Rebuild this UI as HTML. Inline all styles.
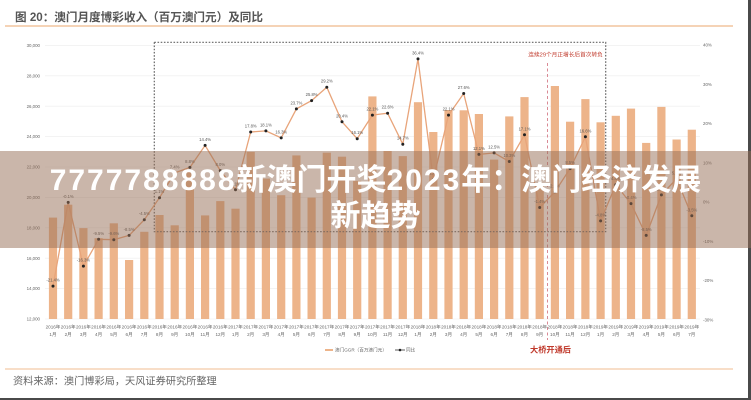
<!DOCTYPE html>
<html><head><meta charset="utf-8"><style>
html,body{margin:0;padding:0;background:#fff;}
#wrap{position:relative;width:751px;height:400px;overflow:hidden;background:#fff;}
svg{position:absolute;left:0;top:0;}
#banner{position:absolute;left:0;top:151px;width:751px;height:97px;background:rgba(150,110,85,0.5);box-sizing:border-box;padding-top:12px;text-align:center;color:#fff;font-family:"Liberation Sans","Noto Sans CJK SC",sans-serif;font-weight:bold;font-size:30px;line-height:36px;white-space:nowrap;}
#banner .d{letter-spacing:2px;}
</style></head><body><div id="wrap">
<svg width="751" height="400" viewBox="0 0 751 400" xmlns="http://www.w3.org/2000/svg" font-family="Liberation Sans, Noto Sans CJK SC, sans-serif">
<text x="15" y="21" font-size="11.6" font-weight="bold" fill="#555">图 20：澳门月度博彩收入（百万澳门元）及同比</text>
<line x1="5" y1="26" x2="733" y2="26" stroke="#f5d3b6" stroke-width="2"/>
<g stroke="#ececec" stroke-width="0.6">
<line x1="45" y1="45.4" x2="700" y2="45.4"/><line x1="45" y1="75.8" x2="700" y2="75.8"/><line x1="45" y1="106.2" x2="700" y2="106.2"/><line x1="45" y1="136.6" x2="700" y2="136.6"/><line x1="45" y1="167" x2="700" y2="167"/><line x1="45" y1="197.4" x2="700" y2="197.4"/><line x1="45" y1="227.8" x2="700" y2="227.8"/><line x1="45" y1="258.2" x2="700" y2="258.2"/><line x1="45" y1="288.6" x2="700" y2="288.6"/><line x1="45" y1="319" x2="700" y2="319"/>
</g>
<g font-size="4.4" fill="#666" text-anchor="end">
<text x="40" y="47">30,000</text><text x="40" y="77.4">28,000</text><text x="40" y="107.8">26,000</text><text x="40" y="138.2">24,000</text><text x="40" y="168.6">22,000</text><text x="40" y="199">20,000</text><text x="40" y="229.4">18,000</text><text x="40" y="259.8">16,000</text><text x="40" y="290.2">14,000</text><text x="40" y="320.6">12,000</text>
</g>
<g font-size="4.4" fill="#666">
<text x="703" y="46.6">40%</text><text x="703" y="85.9">30%</text><text x="703" y="125.2">20%</text><text x="703" y="164.5">10%</text><text x="703" y="203.6">0%</text><text x="703" y="242.9">-10%</text><text x="703" y="282.2">-20%</text><text x="703" y="321.5">-30%</text>
</g>
<g fill="#edb48a">
<rect x="48.9" y="217.6" width="8.2" height="101.4"/><rect x="64.1" y="204.7" width="8.2" height="114.3"/><rect x="79.3" y="228.1" width="8.2" height="90.9"/><rect x="94.5" y="238.2" width="8.2" height="80.8"/><rect x="109.7" y="223.3" width="8.2" height="95.7"/><rect x="125.0" y="260.0" width="8.2" height="59.0"/><rect x="140.2" y="231.8" width="8.2" height="87.2"/><rect x="155.4" y="215.0" width="8.2" height="104.0"/><rect x="170.6" y="225.3" width="8.2" height="93.7"/><rect x="185.8" y="170.1" width="8.2" height="148.9"/><rect x="201.0" y="215.4" width="8.2" height="103.6"/><rect x="216.2" y="201.1" width="8.2" height="117.9"/><rect x="231.4" y="208.7" width="8.2" height="110.3"/><rect x="246.6" y="151.9" width="8.2" height="167.1"/><rect x="261.8" y="178.6" width="8.2" height="140.4"/><rect x="277.1" y="195.2" width="8.2" height="123.8"/><rect x="292.3" y="155.4" width="8.2" height="163.6"/><rect x="307.5" y="197.6" width="8.2" height="121.4"/><rect x="322.7" y="152.7" width="8.2" height="166.3"/><rect x="337.9" y="156.7" width="8.2" height="162.3"/><rect x="353.1" y="180.8" width="8.2" height="138.2"/><rect x="368.3" y="96.4" width="8.2" height="222.6"/><rect x="383.5" y="151.0" width="8.2" height="168.0"/><rect x="398.7" y="156.1" width="8.2" height="162.9"/><rect x="413.9" y="102.2" width="8.2" height="216.8"/><rect x="429.2" y="132.0" width="8.2" height="187.0"/><rect x="444.4" y="110.0" width="8.2" height="209.0"/><rect x="459.6" y="110.3" width="8.2" height="208.7"/><rect x="474.8" y="114.0" width="8.2" height="205.0"/><rect x="490.0" y="159.6" width="8.2" height="159.4"/><rect x="505.2" y="116.4" width="8.2" height="202.6"/><rect x="520.4" y="97.1" width="8.2" height="221.9"/><rect x="535.6" y="185.2" width="8.2" height="133.8"/><rect x="550.8" y="86.0" width="8.2" height="233.0"/><rect x="566.0" y="121.7" width="8.2" height="197.3"/><rect x="581.3" y="99.1" width="8.2" height="219.9"/><rect x="596.5" y="122.3" width="8.2" height="196.7"/><rect x="611.7" y="115.8" width="8.2" height="203.2"/><rect x="626.9" y="108.6" width="8.2" height="210.4"/><rect x="642.1" y="142.9" width="8.2" height="176.1"/><rect x="657.3" y="106.9" width="8.2" height="212.1"/><rect x="672.5" y="139.5" width="8.2" height="179.5"/><rect x="687.7" y="129.7" width="8.2" height="189.3"/>
</g>
<rect x="154.3" y="42.3" width="451.4" height="189.4" fill="none" stroke="#666" stroke-width="1.2" stroke-dasharray="1.6 1.6"/>
<line x1="547.5" y1="63" x2="547.5" y2="340" stroke="#d98a95" stroke-width="1" stroke-dasharray="3 2.5"/>
<text x="528.3" y="56.5" font-size="5.7" fill="#c0392b">连续29个月正增长后首次转负</text>
<polyline fill="none" stroke="#e8a47a" stroke-width="1.3" points="53.0,286.1 68.2,202.4 83.4,266.1 98.6,239.3 113.8,239.7 129.1,235.4 144.3,219.7 159.5,197.7 174.7,172.9 189.9,167.4 205.1,145.4 220.3,170.6 235.5,189.8 250.7,132.0 265.9,130.9 281.2,137.9 296.4,108.9 311.6,100.6 326.8,87.2 342.0,121.8 357.2,138.7 372.4,115.1 387.6,113.2 402.8,144.2 418.0,58.9 433.3,179.6 448.5,115.1 463.7,93.5 478.9,154.4 494.1,152.9 509.3,161.5 524.5,134.8 539.7,207.5 554.9,191.8 570.1,168.6 585.4,136.8 600.6,220.9 615.8,184.7 631.0,203.6 646.2,235.4 661.4,194.9 676.6,178.8 691.8,215.8"/>
<g fill="#222">
<circle cx="53.0" cy="286.1" r="1.5"/><circle cx="68.2" cy="202.4" r="1.5"/><circle cx="83.4" cy="266.1" r="1.5"/><circle cx="98.6" cy="239.3" r="1.5"/><circle cx="113.8" cy="239.7" r="1.5"/><circle cx="129.1" cy="235.4" r="1.5"/><circle cx="144.3" cy="219.7" r="1.5"/><circle cx="159.5" cy="197.7" r="1.5"/><circle cx="174.7" cy="172.9" r="1.5"/><circle cx="189.9" cy="167.4" r="1.5"/><circle cx="205.1" cy="145.4" r="1.5"/><circle cx="220.3" cy="170.6" r="1.5"/><circle cx="235.5" cy="189.8" r="1.5"/><circle cx="250.7" cy="132.0" r="1.5"/><circle cx="265.9" cy="130.9" r="1.5"/><circle cx="281.2" cy="137.9" r="1.5"/><circle cx="296.4" cy="108.9" r="1.5"/><circle cx="311.6" cy="100.6" r="1.5"/><circle cx="326.8" cy="87.2" r="1.5"/><circle cx="342.0" cy="121.8" r="1.5"/><circle cx="357.2" cy="138.7" r="1.5"/><circle cx="372.4" cy="115.1" r="1.5"/><circle cx="387.6" cy="113.2" r="1.5"/><circle cx="402.8" cy="144.2" r="1.5"/><circle cx="418.0" cy="58.9" r="1.5"/><circle cx="433.3" cy="179.6" r="1.5"/><circle cx="448.5" cy="115.1" r="1.5"/><circle cx="463.7" cy="93.5" r="1.5"/><circle cx="478.9" cy="154.4" r="1.5"/><circle cx="494.1" cy="152.9" r="1.5"/><circle cx="509.3" cy="161.5" r="1.5"/><circle cx="524.5" cy="134.8" r="1.5"/><circle cx="539.7" cy="207.5" r="1.5"/><circle cx="554.9" cy="191.8" r="1.5"/><circle cx="570.1" cy="168.6" r="1.5"/><circle cx="585.4" cy="136.8" r="1.5"/><circle cx="600.6" cy="220.9" r="1.5"/><circle cx="615.8" cy="184.7" r="1.5"/><circle cx="631.0" cy="203.6" r="1.5"/><circle cx="646.2" cy="235.4" r="1.5"/><circle cx="661.4" cy="194.9" r="1.5"/><circle cx="676.6" cy="178.8" r="1.5"/><circle cx="691.8" cy="215.8" r="1.5"/>
</g>
<g font-size="4.2" fill="#555" text-anchor="middle">
<text x="53.0" y="281.6">-21.4%</text><text x="68.2" y="197.9">-0.1%</text><text x="83.4" y="261.6">-16.3%</text><text x="98.6" y="234.8">-9.5%</text><text x="113.8" y="235.2">-9.6%</text><text x="129.1" y="230.9">-8.5%</text><text x="144.3" y="215.2">-4.5%</text><text x="159.5" y="193.2">1.1%</text><text x="174.7" y="168.4">7.4%</text><text x="189.9" y="162.9">8.8%</text><text x="205.1" y="140.9">14.4%</text><text x="220.3" y="166.1">8.0%</text><text x="235.5" y="185.3">3.1%</text><text x="250.7" y="127.5">17.8%</text><text x="265.9" y="126.4">18.1%</text><text x="281.2" y="133.4">16.3%</text><text x="296.4" y="104.4">23.7%</text><text x="311.6" y="96.1">25.8%</text><text x="326.8" y="82.7">29.2%</text><text x="342.0" y="117.3">20.4%</text><text x="357.2" y="134.2">16.1%</text><text x="372.4" y="110.6">22.1%</text><text x="387.6" y="108.7">22.6%</text><text x="402.8" y="139.7">14.7%</text><text x="418.0" y="54.4">36.4%</text><text x="433.3" y="175.1">5.7%</text><text x="448.5" y="110.6">22.1%</text><text x="463.7" y="89.0">27.6%</text><text x="478.9" y="149.9">12.1%</text><text x="494.1" y="148.4">12.5%</text><text x="509.3" y="157.0">10.3%</text><text x="524.5" y="130.3">17.1%</text><text x="539.7" y="203.0">-1.4%</text><text x="554.9" y="187.3">2.6%</text><text x="570.1" y="164.1">8.5%</text><text x="585.4" y="132.3">16.6%</text><text x="600.6" y="216.4">-4.8%</text><text x="615.8" y="180.2">4.4%</text><text x="631.0" y="199.1">-0.4%</text><text x="646.2" y="230.9">-8.5%</text><text x="661.4" y="190.4">1.8%</text><text x="676.6" y="174.3">5.9%</text><text x="691.8" y="211.3">-3.5%</text>
</g>
<g font-size="4.6" fill="#666" text-anchor="middle">
<text x="53.0" y="328.5">2016年</text><text x="53.0" y="336">1月</text>
<text x="68.2" y="328.5">2016年</text><text x="68.2" y="336">2月</text>
<text x="83.4" y="328.5">2016年</text><text x="83.4" y="336">3月</text>
<text x="98.6" y="328.5">2016年</text><text x="98.6" y="336">4月</text>
<text x="113.8" y="328.5">2016年</text><text x="113.8" y="336">5月</text>
<text x="129.1" y="328.5">2016年</text><text x="129.1" y="336">6月</text>
<text x="144.3" y="328.5">2016年</text><text x="144.3" y="336">7月</text>
<text x="159.5" y="328.5">2016年</text><text x="159.5" y="336">8月</text>
<text x="174.7" y="328.5">2016年</text><text x="174.7" y="336">9月</text>
<text x="189.9" y="328.5">2016年</text><text x="189.9" y="336">10月</text>
<text x="205.1" y="328.5">2016年</text><text x="205.1" y="336">11月</text>
<text x="220.3" y="328.5">2016年</text><text x="220.3" y="336">12月</text>
<text x="235.5" y="328.5">2017年</text><text x="235.5" y="336">1月</text>
<text x="250.7" y="328.5">2017年</text><text x="250.7" y="336">2月</text>
<text x="265.9" y="328.5">2017年</text><text x="265.9" y="336">3月</text>
<text x="281.2" y="328.5">2017年</text><text x="281.2" y="336">4月</text>
<text x="296.4" y="328.5">2017年</text><text x="296.4" y="336">5月</text>
<text x="311.6" y="328.5">2017年</text><text x="311.6" y="336">6月</text>
<text x="326.8" y="328.5">2017年</text><text x="326.8" y="336">7月</text>
<text x="342.0" y="328.5">2017年</text><text x="342.0" y="336">8月</text>
<text x="357.2" y="328.5">2017年</text><text x="357.2" y="336">9月</text>
<text x="372.4" y="328.5">2017年</text><text x="372.4" y="336">10月</text>
<text x="387.6" y="328.5">2017年</text><text x="387.6" y="336">11月</text>
<text x="402.8" y="328.5">2017年</text><text x="402.8" y="336">12月</text>
<text x="418.0" y="328.5">2018年</text><text x="418.0" y="336">1月</text>
<text x="433.3" y="328.5">2018年</text><text x="433.3" y="336">2月</text>
<text x="448.5" y="328.5">2018年</text><text x="448.5" y="336">3月</text>
<text x="463.7" y="328.5">2018年</text><text x="463.7" y="336">4月</text>
<text x="478.9" y="328.5">2018年</text><text x="478.9" y="336">5月</text>
<text x="494.1" y="328.5">2018年</text><text x="494.1" y="336">6月</text>
<text x="509.3" y="328.5">2018年</text><text x="509.3" y="336">7月</text>
<text x="524.5" y="328.5">2018年</text><text x="524.5" y="336">8月</text>
<text x="539.7" y="328.5">2018年</text><text x="539.7" y="336">9月</text>
<text x="554.9" y="328.5">2018年</text><text x="554.9" y="336">10月</text>
<text x="570.1" y="328.5">2018年</text><text x="570.1" y="336">11月</text>
<text x="585.4" y="328.5">2018年</text><text x="585.4" y="336">12月</text>
<text x="600.6" y="328.5">2019年</text><text x="600.6" y="336">1月</text>
<text x="615.8" y="328.5">2019年</text><text x="615.8" y="336">2月</text>
<text x="631.0" y="328.5">2019年</text><text x="631.0" y="336">3月</text>
<text x="646.2" y="328.5">2019年</text><text x="646.2" y="336">4月</text>
<text x="661.4" y="328.5">2019年</text><text x="661.4" y="336">5月</text>
<text x="676.6" y="328.5">2019年</text><text x="676.6" y="336">6月</text>
<text x="691.8" y="328.5">2019年</text><text x="691.8" y="336">7月</text>
</g>
<line x1="325" y1="350" x2="333" y2="350" stroke="#edb48a" stroke-width="2"/>
<text x="335" y="351.6" font-size="4.6" fill="#666">澳门GGR（百万澳门元）</text>
<line x1="395" y1="350" x2="405" y2="350" stroke="#333" stroke-width="0.8"/>
<circle cx="400" cy="350" r="1.3" fill="#222"/>
<text x="406" y="351.6" font-size="4.6" fill="#666">同比</text>
<text x="530" y="352.5" font-size="8.2" font-weight="bold" fill="#c0392b">大桥开通后</text>
<line x1="5" y1="369" x2="733" y2="369" stroke="#f5d3b6" stroke-width="1.5"/>
<text x="13" y="384.5" font-size="10.2" fill="#666">资料来源：澳门博彩局，天风证券研究所整理</text>
<rect x="748" y="0" width="3" height="400" fill="#4a4a4a"/>
<rect x="0" y="398" width="751" height="2" fill="#4a4a4a"/>
</svg>
<div id="banner"><span class="d">7777788888</span>新澳门开奖<span class="d">2023</span>年：澳门经济发展<br>新趋势</div>
</div></body></html>
